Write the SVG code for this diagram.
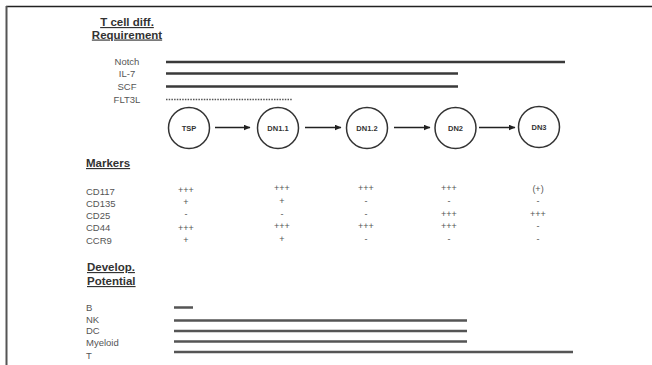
<svg xmlns="http://www.w3.org/2000/svg" width="652" height="365" viewBox="0 0 652 365">
<style>
.h{font-family:"Liberation Sans",Arial,sans-serif;font-weight:bold;font-size:11.5px;fill:#333;text-decoration:underline}
.l{font-family:"Liberation Sans",Arial,sans-serif;font-size:9.5px;fill:#555}
.v{font-family:"Liberation Sans",Arial,sans-serif;font-size:9px;fill:#555;text-anchor:middle}
.n{font-family:"Liberation Sans",Arial,sans-serif;font-size:7.5px;font-weight:bold;fill:#333;text-anchor:middle}
.bar{stroke:#3a3a3a;stroke-width:2.5;fill:none}
.pbar{stroke:#555;stroke-width:2.5;fill:none}
.node circle{fill:#fff;stroke:#333;stroke-width:1.5}
.arr{stroke:#222;stroke-width:1.3;fill:none;marker-end:url(#ah)}
</style>
<defs>
<marker id="ah" markerWidth="7" markerHeight="6" refX="6.5" refY="3" orient="auto" markerUnits="userSpaceOnUse">
<path d="M0,0 L7,3 L0,6 Z" fill="#222"/>
</marker>
</defs>
<rect width="652" height="365" fill="#fff"/>
<line x1="6" y1="6.5" x2="652" y2="6.5" stroke="#222" stroke-width="1.5"/>
<line x1="6.5" y1="6" x2="6.5" y2="365" stroke="#555" stroke-width="2"/>

<g id="requirement">
<text class="h" x="127" y="26" text-anchor="middle">T cell diff.</text>
<text class="h" x="127" y="38.5" text-anchor="middle">Requirement</text>
<text class="l" x="127" y="65" text-anchor="middle">Notch</text>
<text class="l" x="127" y="77" text-anchor="middle">IL-7</text>
<text class="l" x="127" y="89.5" text-anchor="middle">SCF</text>
<text class="l" x="127" y="102.5" text-anchor="middle">FLT3L</text>
<line class="bar" x1="166" y1="62" x2="565" y2="62"/>
<line class="bar" x1="166" y1="73.5" x2="458" y2="73.5"/>
<line class="bar" x1="166" y1="86.5" x2="458" y2="86.5"/>
<line x1="166" y1="99.5" x2="292" y2="99.5" stroke="#555" stroke-width="1.5" stroke-dasharray="1.5,1.2"/>
</g>

<g id="connectors">
<line class="arr" x1="215" y1="127.5" x2="250" y2="127.5"/>
<line class="arr" x1="305" y1="127.5" x2="341" y2="127.5"/>
<line class="arr" x1="394" y1="127.5" x2="430" y2="127.5"/>
<line class="arr" x1="479" y1="127.5" x2="515" y2="127.5"/>
</g>

<g id="TSP" class="node"><circle cx="189" cy="128" r="20.5"/><text class="n" x="189" y="131">TSP</text></g>
<g id="DN1.1" class="node"><circle cx="278" cy="128" r="20.5"/><text class="n" x="278" y="131">DN1.1</text></g>
<g id="DN1.2" class="node"><circle cx="367" cy="128" r="20.5"/><text class="n" x="367" y="131">DN1.2</text></g>
<g id="DN2" class="node"><circle cx="455.5" cy="128" r="20.5"/><text class="n" x="455.5" y="131" font-weight="normal">DN2</text></g>
<g id="DN3" class="node"><circle cx="539" cy="127" r="20.5"/><text class="n" x="539" y="130" font-weight="normal">DN3</text></g>

<g id="markers">
<text class="h" x="86" y="167">Markers</text>
<text class="l" x="86" y="194.5">CD117</text>
<text class="l" x="86" y="206.5">CD135</text>
<text class="l" x="86" y="218.5">CD25</text>
<text class="l" x="86" y="231">CD44</text>
<text class="l" x="86" y="243.5">CCR9</text>
<text class="v" x="186" y="193">+++</text><text class="v" x="282" y="191">+++</text><text class="v" x="366" y="191">+++</text><text class="v" x="449" y="191">+++</text><text class="v" x="538" y="192">(+)</text>
<text class="v" x="186" y="205">+</text><text class="v" x="282" y="204">+</text><text class="v" x="366" y="204">-</text><text class="v" x="449" y="204">-</text><text class="v" x="538" y="204">-</text>
<text class="v" x="186" y="217">-</text><text class="v" x="282" y="217">-</text><text class="v" x="366" y="217">-</text><text class="v" x="449" y="217">+++</text><text class="v" x="538" y="217">+++</text>
<text class="v" x="186" y="231">+++</text><text class="v" x="282" y="229">+++</text><text class="v" x="366" y="229">+++</text><text class="v" x="449" y="229">+++</text><text class="v" x="538" y="229">-</text>
<text class="v" x="186" y="243">+</text><text class="v" x="282" y="242">+</text><text class="v" x="366" y="242">-</text><text class="v" x="449" y="242">-</text><text class="v" x="538" y="242">-</text>
</g>

<g id="potential">
<text class="h" x="87" y="271">Develop.</text>
<text class="h" x="87" y="285">Potential</text>
<text class="l" x="86" y="310.5">B</text>
<text class="l" x="86" y="322.5">NK</text>
<text class="l" x="86" y="334">DC</text>
<text class="l" x="86" y="346">Myeloid</text>
<text class="l" x="86" y="359">T</text>
<line class="pbar" x1="174" y1="307.5" x2="193" y2="307.5"/>
<line class="pbar" x1="174" y1="320.5" x2="467" y2="320.5"/>
<line class="pbar" x1="174" y1="331" x2="467" y2="331"/>
<line class="pbar" x1="174" y1="341.5" x2="467" y2="341.5"/>
<line class="pbar" x1="174" y1="352" x2="573" y2="352"/>
</g>
</svg>
